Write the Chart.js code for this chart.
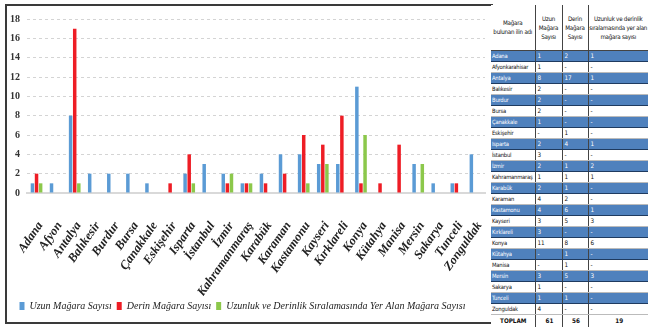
<!DOCTYPE html>
<html>
<head>
<meta charset="utf-8">
<script src="https://cdn.jsdelivr.net/npm/chart.js@4.4.0/dist/chart.umd.min.js"></script>
<style>
  body { margin: 0; width: 648px; height: 327px; background: #fff; overflow: hidden; position: relative; }
  #frame { position: absolute; left: 5px; top: 4px; width: 488px; height: 320px; border: 2px solid #3a3a3a; box-sizing: border-box; }
  #wrap { position: absolute; left: 0; top: 0; width: 490px; height: 327px; }
  #tbl { position: absolute; left: 491px; top: 5px; width: 157px; border-collapse: collapse; table-layout: fixed;
         font-family: "Liberation Sans Narrow", "DejaVu Sans Condensed", sans-serif; font-size: 6.3px; letter-spacing: -0.15px; background: #fff; }
  #tbl tr { height: 11px; }
  #tbl td, #tbl th { padding: 0 0 0 2px; line-height: 8px; border-left: 1px solid #444; border-right: 1px solid #444;
                     border-bottom: 1px solid #bbb; white-space: nowrap; overflow: hidden; text-align: left; font-weight: normal; color: #111; }
  #tbl td:first-child { font-size: 5.8px; letter-spacing: -0.2px; padding-left: 1px; }
  #tbl tr.head { height: 45px; }
  #tbl th { text-align: center; padding: 0; font-size: 6.2px; letter-spacing: -0.25px; line-height: 9px; border-bottom: 1px solid #444; }
  #tbl td:first-child, #tbl th:first-child { border-left: none; }
  #tbl td:last-child, #tbl th:last-child { border-right: none; }
  #tbl tr.blue td { background: #4f81bd; color: #fff; border-top: 1px solid #1f3b60; border-bottom: 1px solid #1f3b60; }
  #tbl tr.total { height: 13px; }
  #tbl tr.total td { font-size: 6.3px; font-weight: bold; text-align: center; letter-spacing: 0; border-top: 1px solid #222; border-bottom: none; }
</style>
</head>
<body>
<div id="frame"></div>
<div id="wrap"><canvas id="myChart" width="490" height="327"></canvas></div>
<table id="tbl">
  <colgroup><col style="width:44px"><col style="width:27px"><col style="width:26px"><col style="width:60px"></colgroup>
  <thead><tr class="head">
    <th>Mağara<br>bulunan ilin adı</th>
    <th>Uzun<br>Mağara<br>Sayısı</th>
    <th>Derin<br>Mağara<br>Sayısı</th>
    <th>Uzunluk ve derinlik<br>sıralamasında yer alan<br>mağara sayısı</th>
  </tr></thead>
  <tbody id="tbody"></tbody>
</table>
<script>
const categories = ['Adana', 'Afyon', 'Antalya', 'Balıkesir', 'Burdur', 'Bursa', 'Çanakkale', 'Eskişehir',
  'Isparta', 'İstanbul', 'İzmir', 'Kahramanmaraş', 'Karabük', 'Karaman', 'Kastamonu', 'Kayseri',
  'Kırklareli', 'Konya', 'Kütahya', 'Manisa', 'Mersin', 'Sakarya', 'Tunceli', 'Zonguldak'];
const uzunValues  = [1, 1, 8, 2, 2, 2, 1, 0, 2, 3, 2, 1, 2, 4, 4, 3, 3, 11, 0, 0, 3, 1, 1, 4];
const derinValues = [2, 0, 17, 0, 0, 0, 0, 1, 4, 0, 1, 1, 1, 2, 6, 5, 8, 1, 1, 5, 0, 0, 1, 0];
const siraValues  = [1, 0, 1, 0, 0, 0, 0, 0, 1, 0, 2, 1, 0, 0, 1, 3, 0, 6, 0, 0, 3, 0, 0, 0];
const seriesNames = ['Uzun Mağara Sayısı', 'Derin Mağara Sayısı', 'Uzunluk ve Derinlik Sıralamasında Yer Alan Mağara Sayısı'];

// table on the right
const tableNames = ['Adana', 'Afyonkarahisar', 'Antalya', 'Balıkesir', 'Burdur', 'Bursa', 'Çanakkale', 'Eskişehir',
  'Isparta', 'İstanbul', 'İzmir', 'Kahramanmaraş', 'Karabük', 'Karaman', 'Kastamonu', 'Kayseri',
  'Kırklareli', 'Konya', 'Kütahya', 'Manisa', 'Mersin', 'Sakarya', 'Tunceli', 'Zonguldak'];
const tableUzun  = ['1', '1', '8', '2', '2', '2', '1', '-', '2', '3', '2', '1', '2', '4', '4', '3', '3', '11', '-', '-', '3', '1', '1', '4'];
const tableDerin = ['2', '-', '17', '-', '-', '-', '-', '1', '4', '-', '1', '1', '1', '2', '6', '5', '-', '8', '1', '1', '5', '-', '1', '-'];
const tableSira  = ['1', '-', '1', '-', '-', '-', '-', '-', '1', '-', '2', '1', '-', '-', '1', '3', '-', '6', '-', '-', '3', '-', '-', '-'];
const tableTotals = ['TOPLAM', '61', '56', '19'];

let rows = '';
for(let i = 0; i < tableNames.length; i++) {
  rows += `<tr class="${i % 2 === 0 ? 'blue' : ''}"><td>${tableNames[i]}</td><td>${tableUzun[i]}</td><td>${tableDerin[i]}</td><td>${tableSira[i]}</td></tr>`;
}
rows += `<tr class="total">${tableTotals.map(t => `<td>${t}</td>`).join('')}</tr>`;
document.getElementById('tbody').innerHTML = rows;

const serif = "'Liberation Serif', 'DejaVu Serif', serif";

const myChart = new Chart(document.getElementById('myChart'), {
  type: 'bar',
  data: {
    labels: categories,
    datasets: [
      { label: seriesNames[0], data: uzunValues,  backgroundColor: '#5b9bd5' },
      { label: seriesNames[1], data: derinValues, backgroundColor: '#ee1d25' },
      { label: seriesNames[2], data: siraValues,  backgroundColor: '#8cc84b' }
    ]
  },
  options: {
    responsive: false,
    animation: false,
    layout: { padding: { top: 19, right: 5, bottom: 6, left: 0 } },
    datasets: { bar: { categoryPercentage: 0.645, barPercentage: 0.85 } },
    plugins: {
      tooltip: { enabled: false },
      legend: {
        position: 'bottom',
        labels: {
          boxWidth: 5,
          boxHeight: 8,
          padding: 5,
          color: '#222',
          font: { family: serif, size: 10, style: 'italic' }
        }
      }
    },
    scales: {
      x: {
        grid: { display: false },
        border: { display: true, color: '#d9d9d9', width: 2 },
        ticks: {
          color: '#222',
          minRotation: 55,
          maxRotation: 55,
          autoSkip: false,
          padding: 18,
          labelOffset: 4,
          font: { family: serif, size: 12.5, style: 'italic', weight: 'bold' }
        },
        afterFit: (scale) => {
          scale.height = 103;
          // labels may spill past the plot edges, like in the original
          scale.paddingLeft = 0;
          scale.paddingRight = 0;
        }
      },
      y: {
        min: 0,
        max: 18,
        border: { display: false, dash: [3, 3] },
        grid: { color: '#d4d4d4', drawTicks: false },
        ticks: {
          stepSize: 2,
          padding: 7,
          color: '#333',
          font: { family: serif, size: 10, weight: 'bold' }
        },
        afterFit: (scale) => { scale.width = 27; }
      }
    }
  }
});
</script>
</body>
</html>
